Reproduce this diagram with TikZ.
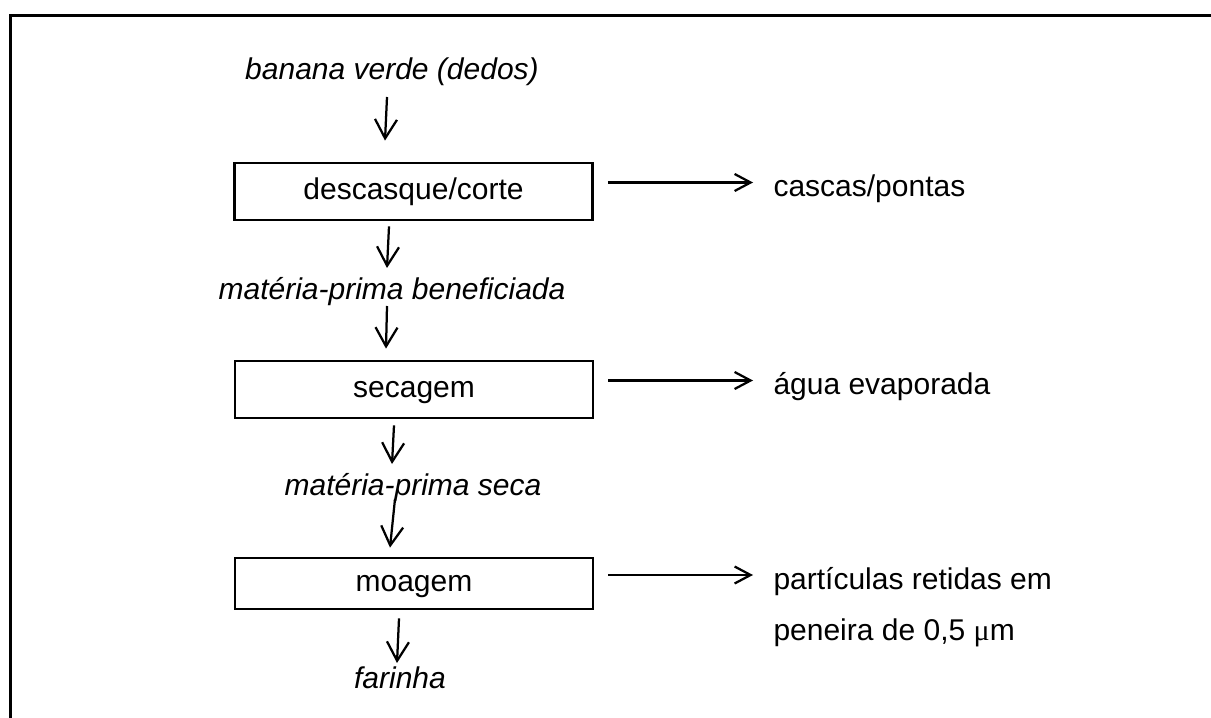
\documentclass[tikz,border=0pt]{standalone}
\usepackage{fontspec}
\setmainfont{Liberation Sans}
\newfontfamily\greekfont{Liberation Serif}
\usetikzlibrary{arrows.meta,calc}

\begin{document}
\begin{tikzpicture}[x=0.4pt,y=-0.4pt,
    font=\fontsize{12}{20.4}\selectfont,
    etapa/.style={draw, line width=1.1pt, minimum width=143.2pt, minimum height=22.8pt,
        text height=8.6pt, text depth=2.5pt, inner sep=0pt},
    produto/.style={inner sep=0pt, anchor=base, font=\fontsize{12}{20.4}\selectfont\itshape},
    residuo/.style={inner sep=0pt, anchor=base west, align=left},
    fluxo/.style={line width=0.9pt, -{Straight Barb[length=7.6pt,width=8.8pt]}},
    saida/.style={line width=0.9pt, -{Straight Barb[length=6.4pt,width=6.8pt]}}]
    \useasboundingbox (0,0) rectangle (1211,718);

    % Moldura
    \draw[line width=1.2pt] (10,718) -- (10,16) -- (1211,16);

    % Produtos intermediarios
    \node[produto] (banana) at (392,80) {banana verde (dedos)};
    \node[produto] (benef) at (392,300) {matéria-prima beneficiada};
    \node[produto] (seca) at (413,495) {matéria-prima seca};
    \node[produto] (farinha) at (400,688) {farinha};

    % Etapas do processo
    \node[etapa] (desc) at (413.5,191.5) {descasque/corte};
    \node[etapa] (secagem) at (414,389.5) {secagem};
    \node[etapa, minimum height=20.4pt] (moagem) at (414,583.5) {moagem};

    % Residuos (base da ultima linha)
    \node[residuo] (cascas) at (773,196.5) {cascas/pontas};
    \node[residuo] (agua) at (773,394.5) {água evaporada};
    \node[residuo] (particulas) at (773,640) {partículas retidas em\\peneira de 0,5 {\greekfont μ}m};

    % Fluxo principal
    \draw[fluxo] ([shift={(-5,17)}]banana.base) -- ([shift={(-28.5,-21)}]desc.north);
    \draw[fluxo] ([shift={(-24.5,5)}]desc.south) -- ([shift={(-5,-32)}]benef.base);
    \draw[fluxo] ([shift={(-5,6)}]benef.base) -- ([shift={(-28,-11)}]secagem.north);
    \draw[fluxo] ([shift={(-20,6)}]secagem.south) -- ([shift={(-21,-31)}]seca.base);
    \draw[fluxo] ([shift={(-18,4)}]seca.base) -- ([shift={(-24,-9)}]moagem.north);
    \draw[fluxo] ([shift={(-15,8)}]moagem.south) -- ([shift={(-3,-25)}]farinha.base);

    % Saidas laterais
    \draw[saida] ([shift={(14,-9)}]desc.east) -- ([shift={(-20,-14)}]cascas.base west);
    \draw[saida] ([shift={(14,-9)}]secagem.east) -- ([shift={(-20,-14)}]agua.base west);
    \draw[saida] ([shift={(14,-8.5)}]moagem.east) -- ([shift={(-20,-65)}]particulas.base west);
\end{tikzpicture}
\end{document}
